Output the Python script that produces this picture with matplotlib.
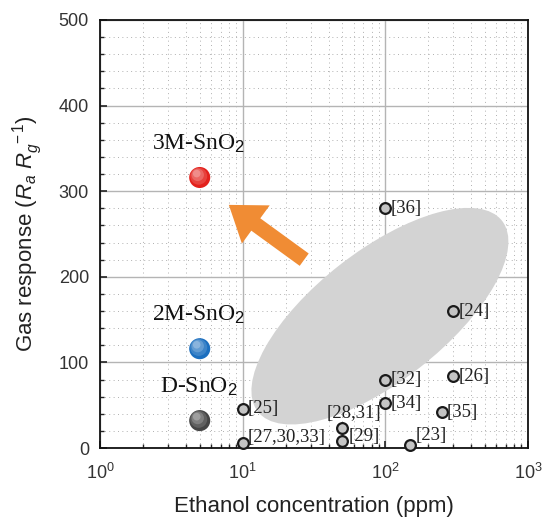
import matplotlib
matplotlib.use("Agg")
import matplotlib.pyplot as plt
import matplotlib.transforms as mtransforms
from matplotlib.patches import Ellipse
from matplotlib.ticker import MultipleLocator, LogLocator, NullFormatter

plt.rcParams['font.family'] = ['Liberation Sans', 'DejaVu Sans']
plt.rcParams['mathtext.fontset'] = 'custom'
plt.rcParams['mathtext.rm'] = 'Liberation Sans'
plt.rcParams['mathtext.it'] = 'Liberation Sans:italic'

# this work (samples)
sample_names = ['3M-SnO$_2$', '2M-SnO$_2$', 'D-SnO$_2$']
sample_conc = [5, 5, 5]
sample_resp = [316, 116, 32]
sample_colors = ['#e3211c', '#1c6fbf', '#454545']

# literature values
ref_labels = ['[36]', '[24]', '[32]', '[26]', '[34]', '[35]', '[28,31]',
              '[29]', '[23]', '[25]', '[27,30,33]']
ref_conc = [100, 300, 100, 300, 100, 250, 50, 50, 150, 10, 10]
ref_resp = [280, 160, 80, 84, 52, 42, 23, 8, 4, 46, 6]

fig = plt.figure(figsize=(5.44, 5.19), dpi=100)
ax = fig.add_axes([0.1838, 0.1368, 0.7868, 0.8247])

ax.set_xscale('log')
ax.set_xlim(1, 1000)
ax.set_ylim(0, 500)
ax.yaxis.set_major_locator(MultipleLocator(100))
ax.yaxis.set_minor_locator(MultipleLocator(20))
ax.xaxis.set_minor_locator(LogLocator(base=10, subs=range(2, 10)))
ax.xaxis.set_minor_formatter(NullFormatter())

ax.grid(True, which='major', color='#b4b4b4', lw=1.0)
ax.grid(True, which='minor', color='#b0b0b0', lw=0.7, ls=(0, (1, 3.5)))
ax.set_axisbelow(True)

ax.tick_params(which='both', direction='in', top=False, right=False,
               labelsize=13, labelcolor='#333333', color='#222222')
ax.tick_params(which='major', length=5, width=1.2)
ax.tick_params(which='minor', length=3, width=1.0)
ax.tick_params(axis='x', which='major', pad=11)
ax.tick_params(axis='y', which='major', pad=8)
for s in ax.spines.values():
    s.set_linewidth(1.3)
    s.set_color('#111111')

# shaded region of literature data
ell = Ellipse((0.654, 0.308), 0.724, 0.304, angle=38, transform=ax.transAxes,
              facecolor='#d3d3d3', edgecolor='none', zorder=1.5)
ax.add_patch(ell)

# arrow
ax.annotate('', xy=(8, 284), xytext=(27, 220),
            arrowprops=dict(arrowstyle='simple,head_length=1.2,head_width=1.7,tail_width=0.55',
                            fc='#f08c34', ec='none', mutation_scale=20,
                            shrinkA=0, shrinkB=0), zorder=2)

# literature points
ax.scatter(ref_conc, ref_resp, s=60, facecolor='#c4c4c4', edgecolor='#1a1a1a',
           linewidth=1.6, zorder=4, clip_on=False)
ref_offsets = {'[28,31]': (12, 15), '[29]': (6, 5), '[23]': (5, 9),
               '[27,30,33]': (5, 5)}
for lab, x, y in zip(ref_labels, ref_conc, ref_resp):
    dx, dy = ref_offsets.get(lab, (5, 0))
    ha = 'center' if lab == '[28,31]' else 'left'
    ax.annotate(lab, (x, y), xytext=(dx, dy), textcoords='offset pixels',
                ha=ha, va='center', fontsize=13.5, family='Liberation Serif',
                color='#222222', zorder=5)

# sample points, drawn with a simple shading
for name, x, y, c in zip(sample_names, sample_conc, sample_resp, sample_colors):
    ax.scatter([x], [y], s=230, color=c, edgecolor='none', zorder=6)
    for k, (sz, a) in enumerate([(150, 0.15), (80, 0.2), (30, 0.25)]):
        off = mtransforms.ScaledTranslation(-(k + 1) * 1.0 / 100, (k + 1) * 1.3 / 100,
                                            fig.dpi_scale_trans)
        ax.scatter([x], [y], s=sz, color='white', alpha=a, edgecolor='none',
                   zorder=7, transform=ax.transData + off)
    ax.annotate(name, (x, y), xytext=(-1, 34), textcoords='offset pixels',
                ha='center', va='center', fontsize=17, family='Liberation Serif',
                color='#111111', zorder=8)

ax.set_xlabel('Ethanol concentration (ppm)', fontsize=16, labelpad=9, color='#222222')
ax.set_ylabel('Gas response ($R_a\\ R_g^{\\ -1}$)', fontsize=16, labelpad=10, color='#222222')

fig.savefig('out.png', dpi=100)
